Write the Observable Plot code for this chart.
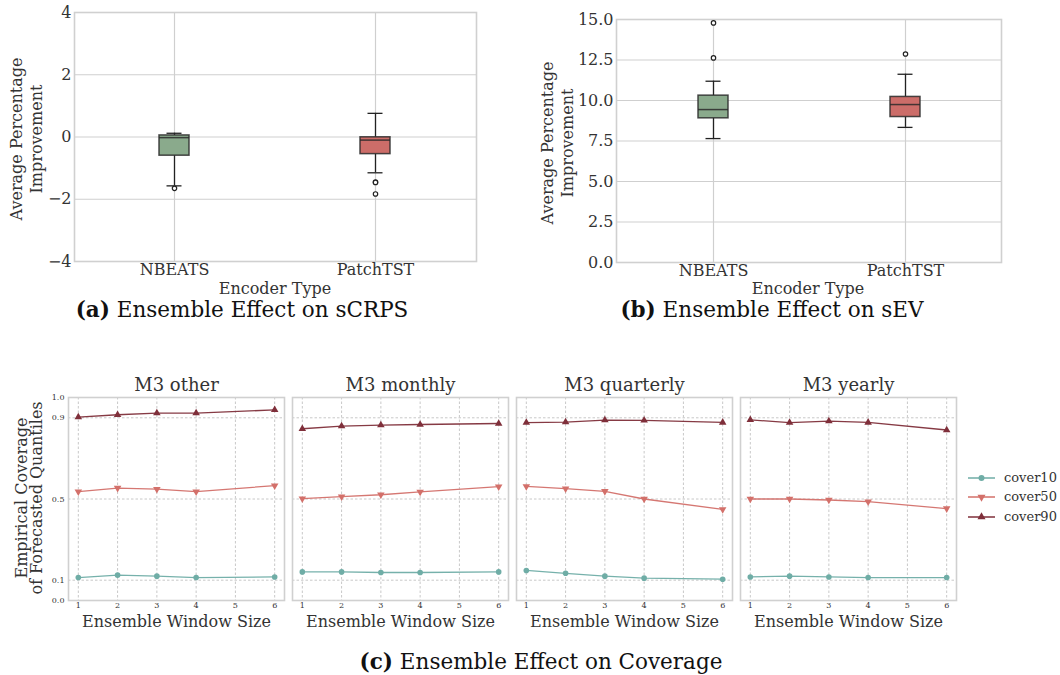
<!DOCTYPE html>
<html>
<head>
<meta charset="utf-8">
<script src="https://cdn.jsdelivr.net/npm/d3@7"></script>
<script src="https://cdn.jsdelivr.net/npm/@observablehq/plot@0.6"></script>
<style>
  body { margin: 0; background: white; }
  #root { position: relative; width: 1060px; height: 675px; overflow: hidden; font-family: "DejaVu Serif", serif; color: #333; }
  .ylab { position: absolute; transform: translate(-50%, -50%) rotate(-90deg); text-align: center; white-space: nowrap; font-size: 16px; line-height: 20px; color: #333; }
  .xlab { position: absolute; transform: translate(-50%, -50%); white-space: nowrap; font-size: 16px; line-height: 1; color: #333; }
  .cap { position: absolute; transform: translate(-50%, -50%); white-space: nowrap; font-family: "DejaVu Serif", serif; font-size: 21.5px; line-height: 0.9; color: #111; }
  .leg { position: absolute; font-size: 13px; line-height: 1; color: #333; white-space: nowrap; }
  svg { font-family: "DejaVu Serif", serif; }
</style>
</head>
<body>
<div id="root"></div>
<script>
// ---------- data ----------
const encoders = ["NBEATS", "PatchTST"];
const boxColors = ["#8aaa8c", "#cc6d69"];

// (a) sCRPS box statistics
const crpsLo  = [-1.57, -1.15];
const crpsQ1  = [-0.60, -0.55];
const crpsMed = [-0.02, -0.10];
const crpsQ3  = [0.05, -0.01];
const crpsHi  = [0.12, 0.76];
const crpsOutEnc = ["NBEATS", "PatchTST", "PatchTST", "PatchTST"];
const crpsOutVal = [-1.65, -1.45, -1.46, -1.83];
const crpsTicks = [-4, -2, 0, 2, 4];

// (b) sEV box statistics
const sevLo  = [7.65, 8.34];
const sevQ1  = [8.90, 8.98];
const sevMed = [9.44, 9.75];
const sevQ3  = [10.30, 10.22];
const sevHi  = [11.19, 11.62];
const sevOutEnc = ["NBEATS", "NBEATS", "PatchTST"];
const sevOutVal = [14.79, 12.63, 12.87];
const sevTicks = [0, 2.5, 5, 7.5, 10, 12.5, 15];

// (c) coverage
const datasets = ["M3 other", "M3 monthly", "M3 quarterly", "M3 yearly"];
const windows = [1, 2, 3, 4, 6];
const series = ["cover10", "cover50", "cover90"];
const seriesColors = ["#6fada6", "#d3706a", "#7f2f3a"];
const cover10 = {
  "M3 other":     [0.113, 0.125, 0.120, 0.113, 0.116],
  "M3 monthly":   [0.141, 0.141, 0.138, 0.138, 0.141],
  "M3 quarterly": [0.148, 0.134, 0.120, 0.110, 0.105],
  "M3 yearly":    [0.116, 0.120, 0.116, 0.113, 0.113]
};
const cover50 = {
  "M3 other":     [0.536, 0.554, 0.549, 0.536, 0.566],
  "M3 monthly":   [0.502, 0.512, 0.521, 0.535, 0.561],
  "M3 quarterly": [0.562, 0.551, 0.538, 0.500, 0.449],
  "M3 yearly":    [0.500, 0.500, 0.495, 0.487, 0.453]
};
const cover90 = {
  "M3 other":     [0.903, 0.915, 0.923, 0.923, 0.939],
  "M3 monthly":   [0.846, 0.859, 0.864, 0.867, 0.872],
  "M3 quarterly": [0.876, 0.879, 0.889, 0.887, 0.877],
  "M3 yearly":    [0.890, 0.876, 0.884, 0.877, 0.840]
};
const windowTicks = [1, 2, 3, 4, 5, 6];
const coverTicks = [0, 0.1, 0.5, 0.9, 1.0];

// ---------- helpers ----------
const root = document.getElementById("root");
function place(el, left, top) {
  el.style.position = "absolute";
  el.style.left = left + "px";
  el.style.top = top + "px";
  root.appendChild(el);
}
function addDiv(cls, html, left, top) {
  const d = document.createElement("div");
  d.className = cls;
  d.innerHTML = html;
  d.style.left = left + "px";
  d.style.top = top + "px";
  root.appendChild(d);
  return d;
}

function boxPanel({lo, q1, med, q3, hi, outEnc, outVal, ticks, domain, fmt, width, height, margins, padIn, padOut}) {
  const stats = encoders.map((e, i) => ({enc: e, lo: lo[i], q1: q1[i], med: med[i], q3: q3[i], hi: hi[i]}));
  const outs = outEnc.map((e, i) => ({enc: e, val: outVal[i]}));
  return Plot.plot({
    width, height,
    marginLeft: margins[0], marginRight: margins[1], marginTop: margins[2], marginBottom: margins[3],
    style: {fontFamily: "DejaVu Serif", fontSize: "16px", color: "#333", background: "white"},
    x: {domain: encoders, paddingInner: padIn, paddingOuter: padOut, label: null},
    y: {domain, label: null},
    color: {domain: encoders, range: boxColors},
    marks: [
      Plot.gridY({ticks, stroke: "#cfcfcf", strokeOpacity: 1, strokeWidth: 1.2}),
      Plot.ruleX(encoders, {x: d => d, stroke: "#cfcfcf", strokeWidth: 1.2}),
      Plot.frame({stroke: "#d0d0d0", strokeWidth: 1.6}),
      Plot.ruleX(stats, {x: "enc", y1: "lo", y2: "q1", stroke: "#222", strokeWidth: 1.3}),
      Plot.ruleX(stats, {x: "enc", y1: "q3", y2: "hi", stroke: "#222", strokeWidth: 1.3}),
      Plot.tickY(stats, {x: "enc", y: "lo", insetLeft: 7.5, insetRight: 7.5, stroke: "#222", strokeWidth: 1.3}),
      Plot.tickY(stats, {x: "enc", y: "hi", insetLeft: 7.5, insetRight: 7.5, stroke: "#222", strokeWidth: 1.3}),
      Plot.barY(stats, {x: "enc", y1: "q1", y2: "q3", fill: "enc", stroke: "#2a2a2a", strokeOpacity: 0.85, strokeWidth: 1.5}),
      Plot.tickY(stats, {x: "enc", y: "med", stroke: "#2a2a2a", strokeOpacity: 0.85, strokeWidth: 1.5}),
      Plot.dot(outs, {x: "enc", y: "val", r: 2.2, stroke: "#222", fill: "white", strokeWidth: 1.2}),
      Plot.axisY({ticks, tickFormat: fmt, tickSize: 0, tickPadding: 3, fontSize: 16, label: null}),
      Plot.axisX({tickSize: 0, tickPadding: 2, fontSize: 16, label: null})
    ]
  });
}

// ---------- panel (a) ----------
const pa = boxPanel({
  lo: crpsLo, q1: crpsQ1, med: crpsMed, q3: crpsQ3, hi: crpsHi,
  outEnc: crpsOutEnc, outVal: crpsOutVal, ticks: crpsTicks, domain: [-4, 4],
  fmt: d => d3.format("d")(d).replace("-", "\u2212"),
  width: 490, height: 300, margins: [74, 14, 12, 39], padIn: 0.85, padOut: 0.425
});
place(pa, 0, 0);
addDiv("ylab", "Average Percentage<br>Improvement", 27, 139);
addDiv("xlab", "Encoder Type", 275, 289);

// ---------- panel (b) ----------
const pb = boxPanel({
  lo: sevLo, q1: sevQ1, med: sevMed, q3: sevQ3, hi: sevHi,
  outEnc: sevOutEnc, outVal: sevOutVal, ticks: sevTicks, domain: [0, 15],
  fmt: d3.format(".1f"),
  width: 530, height: 300, margins: [86, 59, 19, 38], padIn: 0.845, padOut: 0.42
});
place(pb, 530, 0);
addDiv("ylab", "Average Percentage<br>Improvement", 558, 143);
addDiv("xlab", "Encoder Type", 808, 289);

// ---------- panel (c) ----------
const rows = [];
for (const ds of datasets) {
  windows.forEach((w, i) => {
    rows.push({dataset: ds, window: w, series: "cover10", value: cover10[ds][i]});
    rows.push({dataset: ds, window: w, series: "cover50", value: cover50[ds][i]});
    rows.push({dataset: ds, window: w, series: "cover90", value: cover90[ds][i]});
  });
}
const sqrt3 = Math.sqrt(3);
const triDown = {
  draw(context, size) {
    const y = -Math.sqrt(size / (sqrt3 * 3));
    context.moveTo(0, -y * 2);
    context.lineTo(-sqrt3 * y, y);
    context.lineTo(sqrt3 * y, y);
    context.closePath();
  }
};
const pc = Plot.plot({
  width: 960, height: 270,
  marginLeft: 67, marginRight: 3, marginTop: 37, marginBottom: 30,
  style: {fontFamily: "DejaVu Serif", fontSize: "8px", color: "#333", background: "white"},
  fx: {domain: datasets, paddingInner: 0.036, paddingOuter: 0, label: null},
  x: {domain: [0.75, 6.25], label: null},
  y: {domain: [0, 1], label: null},
  color: {domain: series, range: seriesColors},
  symbol: {domain: series, range: [d3.symbolCircle, triDown, d3.symbolTriangle]},
  marks: [
    Plot.gridX({ticks: windowTicks, stroke: "#c8c8c8", strokeOpacity: 1, strokeDasharray: "2.5,2"}),
    Plot.gridY({ticks: coverTicks, stroke: "#c8c8c8", strokeOpacity: 1, strokeDasharray: "2.5,2"}),
    Plot.frame({stroke: "#d0d0d0", strokeWidth: 1.6}),
    Plot.line(rows, {fx: "dataset", x: "window", y: "value", z: "series", stroke: "series", strokeWidth: 1.3, strokeOpacity: 0.95}),
    Plot.dot(rows, {fx: "dataset", x: "window", y: "value", fill: "series", symbol: "series", r: 2.8}),
    Plot.axisFx({anchor: "top", tickSize: 0, tickPadding: 7, fontSize: 18, label: null}),
    Plot.axisX({ticks: windowTicks, tickFormat: d3.format("d"), tickSize: 0, tickPadding: 2, fontSize: 8, label: null}),
    Plot.axisY({ticks: coverTicks, tickFormat: d3.format(".1f"), tickSize: 0, tickPadding: 4, fontSize: 8, label: null}),
    Plot.text(datasets, {fx: d => d, text: () => "Ensemble Window Size", frameAnchor: "bottom", dy: 21, fontSize: 16, lineAnchor: "middle", fill: "#333"})
  ]
});
place(pc, 0, 360);
addDiv("ylab", "Empirical Coverage<br>of Forecasted Quantiles", 29, 498).style.lineHeight = "15px";

// legend
series.forEach((s, i) => {
  const y = [478, 497, 517][i];
  const svg = d3.create("svg").attr("width", 30).attr("height", 12);
  svg.append("line").attr("x1", 1).attr("x2", 28).attr("y1", 6).attr("y2", 6)
    .attr("stroke", seriesColors[i]).attr("stroke-width", 1.5);
  const sym = [d3.symbolCircle, triDown, d3.symbolTriangle][i];
  svg.append("path").attr("transform", "translate(14.5,6)")
    .attr("d", d3.symbol(sym, 28)()).attr("fill", seriesColors[i]);
  const node = svg.node();
  node.style.position = "absolute";
  node.style.left = "967px";
  node.style.top = (y - 6) + "px";
  root.appendChild(node);
  addDiv("leg", s, 1004, y - 7);
});

// captions
addDiv("cap", "<b>(a)</b> Ensemble Effect on sCRPS", 242, 310);
addDiv("cap", "<b>(b)</b> Ensemble Effect on sEV", 772, 310);
addDiv("cap", "<b>(c)</b> Ensemble Effect on Coverage", 541, 662);
</script>
</body>
</html>
